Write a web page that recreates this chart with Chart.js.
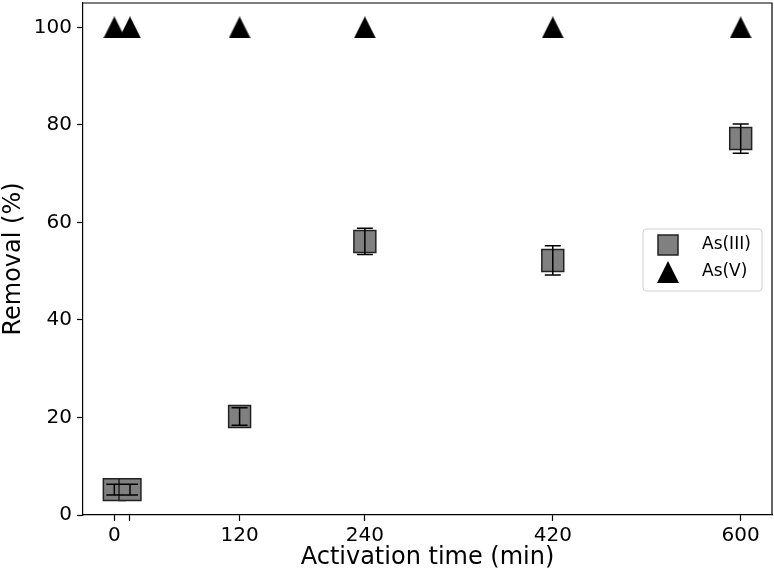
<!DOCTYPE html>
<html>
<head>
<meta charset="utf-8">
<script src="https://cdn.jsdelivr.net/npm/chart.js@4"></script>
<style>
  html, body { margin: 0; padding: 0; background: #fff; }
  #wrap { width: 774px; height: 577px; }
</style>
</head>
<body>
<div id="wrap"><canvas id="c" width="774" height="577"></canvas></div>
<script>
// ── 데이터 ──────────────────────────────────────────────
const xTicks = [0, 15, 120, 240, 420, 600];
const xTickLabels = ["0", "", "120", "240", "420", "600"];
const yTicks = [0, 20, 40, 60, 80, 100];

const as3Time = [0, 15, 120, 240, 420, 600];
const as3Removal = [5.2, 5.2, 20.2, 56.1, 52.2, 77.2];
const as3Err = [1.1, 1.1, 1.8, 2.7, 3.0, 3.0];

const as5Time = [0, 15, 120, 240, 420, 600];
const as5Removal = [100, 100, 100, 100, 100, 100];

const FONT = "'DejaVu Sans', sans-serif";
const GRAY = "#808080";

// matplotlib '^' 모양 (폭 = 높이)
function triangleImg(size) {
  const cv = document.createElement("canvas");
  cv.width = size; cv.height = size;
  const g = cv.getContext("2d");
  g.fillStyle = "#000";
  g.beginPath();
  g.moveTo(size / 2, 0);
  g.lineTo(size, size);
  g.lineTo(0, size);
  g.closePath();
  g.fill();
  return cv;
}
const TRI = triangleImg(22);

// ── 오차 막대 + 테두리 + 범례 ─────────────────────────────
const extras = {
  id: "extras",
  afterDatasetsDraw(chart) {
    const { ctx, scales: { x, y }, chartArea: a } = chart;
    ctx.save();
    ctx.strokeStyle = "#000";
    ctx.lineWidth = 1.5;
    as3Time.forEach((t, i) => {
      const px = x.getPixelForValue(t);
      const top = y.getPixelForValue(as3Removal[i] + as3Err[i]);
      const bot = y.getPixelForValue(as3Removal[i] - as3Err[i]);
      ctx.beginPath();
      ctx.moveTo(px, top); ctx.lineTo(px, bot);
      ctx.moveTo(px - 8, top); ctx.lineTo(px + 8, top);
      ctx.moveTo(px - 8, bot); ctx.lineTo(px + 8, bot);
      ctx.stroke();
    });

    // 위/오른쪽 축선
    ctx.lineWidth = 1.2;
    ctx.beginPath();
    ctx.moveTo(a.left, a.top); ctx.lineTo(a.right, a.top); ctx.lineTo(a.right, a.bottom);
    ctx.stroke();

    // 범례
    const bx = 643, by = 229, bw = 119, bh = 62;
    ctx.fillStyle = "rgba(255,255,255,0.8)";
    ctx.strokeStyle = "#d0d0d0";
    ctx.lineWidth = 1;
    ctx.beginPath();
    ctx.roundRect(bx, by, bw, bh, 3);
    ctx.fill(); ctx.stroke();

    ctx.fillStyle = GRAY;
    ctx.strokeStyle = "#222";
    ctx.lineWidth = 1.5;
    ctx.fillRect(658, 235, 20, 20);
    ctx.strokeRect(658, 235, 20, 20);
    ctx.drawImage(TRI, 657, 261);

    ctx.fillStyle = "#000";
    ctx.font = "17px " + FONT;
    ctx.textBaseline = "middle";
    ctx.fillText("As(III)", 702, 245);
    ctx.fillText("As(V)", 702, 272);
    ctx.restore();
  },
};

new Chart(document.getElementById("c"), {
  type: "scatter",
  data: {
    datasets: [
      {
        label: "As(III)",
        data: as3Time.map((t, i) => ({ x: t, y: as3Removal[i] })),
        pointStyle: "rect",
        pointRadius: 15.5,
        pointHoverRadius: 15.5,
        backgroundColor: GRAY,
        borderColor: "#222",
        borderWidth: 1.5,
      },
      {
        label: "As(V)",
        data: as5Time.map((t, i) => ({ x: t, y: as5Removal[i] })),
        pointStyle: TRI,
        pointRadius: 11,
        backgroundColor: "#000",
      },
    ],
  },
  options: {
    responsive: false,
    animation: false,
    layout: { autoPadding: false, padding: { top: 3, right: 2, left: 0, bottom: 0 } },
    plugins: { legend: { display: false }, tooltip: { enabled: false } },
    scales: {
      x: {
        type: "linear",
        min: -30,
        max: 630,
        afterFit: (s) => { s.height = 62; s.paddingLeft = 0; s.paddingRight = 0; },
        afterBuildTicks: (s) => { s.ticks = xTicks.map((v) => ({ value: v })); },
        ticks: {
          autoSkip: false,
          maxRotation: 0,
          padding: 3,
          color: "#000",
          font: { family: FONT, size: 20 },
          callback: (v) => xTickLabels[xTicks.indexOf(v)] ?? "",
        },
        grid: { drawOnChartArea: false, drawTicks: true, tickLength: 6, color: "#000", tickWidth: 1.2 },
        border: { display: true, color: "#000", width: 1.2 },
        title: {
          display: true,
          text: "Activation time (min)",
          color: "#000",
          font: { family: FONT, size: 24, lineHeight: 1.2 },
          padding: { top: 0, bottom: 5 },
        },
      },
      y: {
        min: 0,
        max: 105,
        afterFit: (s) => { s.width = 83; s.paddingTop = 0; s.paddingBottom = 0; },
        afterBuildTicks: (s) => { s.ticks = yTicks.map((v) => ({ value: v })); },
        ticks: {
          padding: 5,
          color: "#000",
          font: { family: FONT, size: 20 },
        },
        grid: { drawOnChartArea: false, drawTicks: true, tickLength: 6, color: "#000", tickWidth: 1.2 },
        border: { display: true, color: "#000", width: 1.2 },
        title: {
          display: true,
          text: "Removal (%)",
          color: "#000",
          font: { family: FONT, size: 24, lineHeight: 1.0 },
          padding: { top: 2, bottom: 0 },
        },
      },
    },
  },
  plugins: [extras],
});
</script>
</body>
</html>
